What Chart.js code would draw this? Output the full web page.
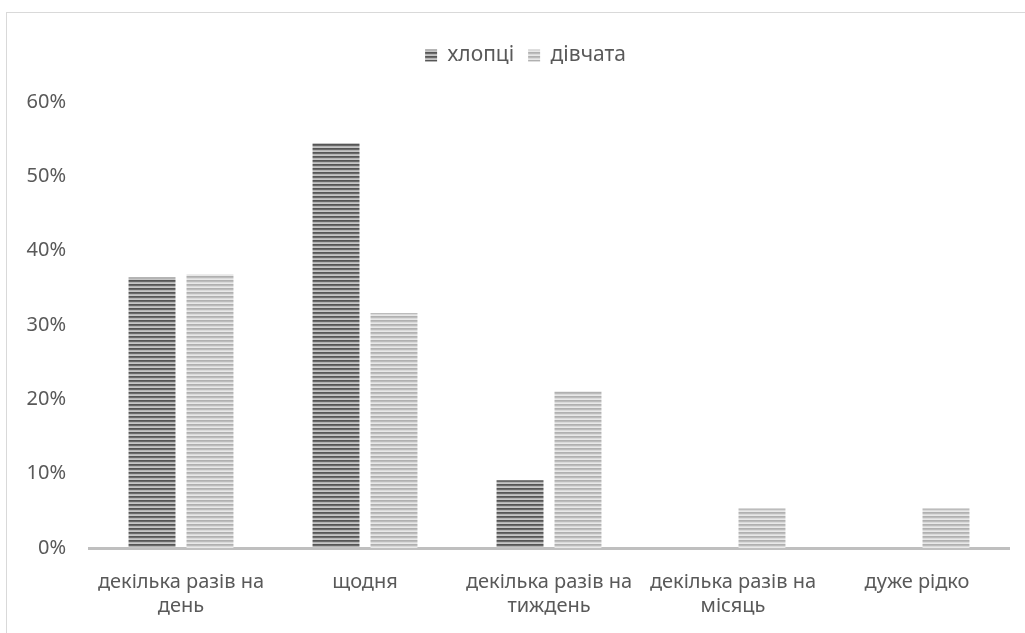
<!DOCTYPE html>
<html>
<head>
<meta charset="utf-8">
<script src="https://cdn.jsdelivr.net/npm/chart.js@4"></script>
<style>
    html, body { margin: 0; padding: 0; background: #fff; }
    #wrap { position: relative; width: 1025px; height: 633px; }
    #frame { position: absolute; left: 6px; top: 12px; right: 0; bottom: 0;
             border-top: 1px solid #d9d9d9; border-left: 1px solid #d9d9d9; }
    canvas { position: absolute; left: 0; top: 0; }
</style>
</head>
<body>
<div id="wrap">
    <div id="frame"></div>
    <canvas id="chart" width="1025" height="633"></canvas>
</div>
<script>
const categories = [
    ['декілька разів на', 'день'],
    'щодня',
    ['декілька разів на', 'тиждень'],
    ['декілька разів на', 'місяць'],
    'дуже рідко'
];
const boys = [36.4, 54.5, 9.1, 0, 0];
const girls = [36.8, 31.6, 21.1, 5.3, 5.3];
const yTicks = [0, 10, 20, 30, 40, 50, 60];

function stripes(colors) {
    const c = document.createElement('canvas');
    c.width = 4;
    c.height = colors.length;
    const g = c.getContext('2d');
    colors.forEach((col, i) => {
        g.fillStyle = col;
        g.fillRect(0, i, 4, 1);
    });
    return g.createPattern(c, 'repeat');
}

// extra room under the legend and a small shift to the right, like the original
const legendGap = {
    id: 'legendGap',
    beforeInit(chart) {
        const fit = chart.legend.fit;
        chart.legend.fit = function() {
            fit.bind(chart.legend)();
            this.height += 26;
        };
    },
    afterLayout(chart) {
        chart.legend.left += 42;
    }
};

function drawChart() {
    const ctx = document.getElementById('chart');
    const textColor = '#595959';
    const font = { family: 'Noto Sans', size: 20, lineHeight: 1.2 };

    new Chart(ctx, {
        type: 'bar',
        data: {
            labels: categories,
            datasets: [
                {
                    label: 'хлопці',
                    data: boys,
                    backgroundColor: stripes(['#555555', '#6a6a6a', '#b4b4b4', '#c6c6c6']),
                    borderWidth: 0
                },
                {
                    label: 'дівчата',
                    data: girls,
                    backgroundColor: stripes(['#b0b0b0', '#bcbcbc', '#dadada', '#e8e8e8']),
                    borderWidth: 0
                }
            ]
        },
        options: {
            responsive: false,
            animation: false,
            categoryPercentage: 0.63,
            barPercentage: 0.81,
            layout: { padding: { left: 0, right: 16, top: 31, bottom: 0 } },
            plugins: {
                legend: {
                    position: 'top',
                    labels: {
                        color: textColor,
                        font: { family: 'Noto Sans', size: 21 },
                        boxWidth: 12,
                        boxHeight: 12,
                        padding: 14
                    }
                },
                tooltip: { enabled: false }
            },
            scales: {
                x: {
                    grid: { display: false, drawTicks: false },
                    border: { display: true, color: '#bfbfbf', width: 3 },
                    ticks: { color: textColor, font: font, padding: 22, maxRotation: 0, autoSkip: false },
                    afterFit: scale => { scale.height = 85; }
                },
                y: {
                    min: 0,
                    max: 60,
                    afterBuildTicks: scale => { scale.ticks = yTicks.map(v => ({ value: v })); },
                    grid: { display: false, drawTicks: false },
                    border: { display: false },
                    ticks: { color: textColor, font: font, padding: 23, callback: v => v + '%' },
                    afterFit: scale => { scale.width = 89; }
                }
            }
        },
        plugins: [legendGap]
    });
}

drawChart();
</script>
</body>
</html>
